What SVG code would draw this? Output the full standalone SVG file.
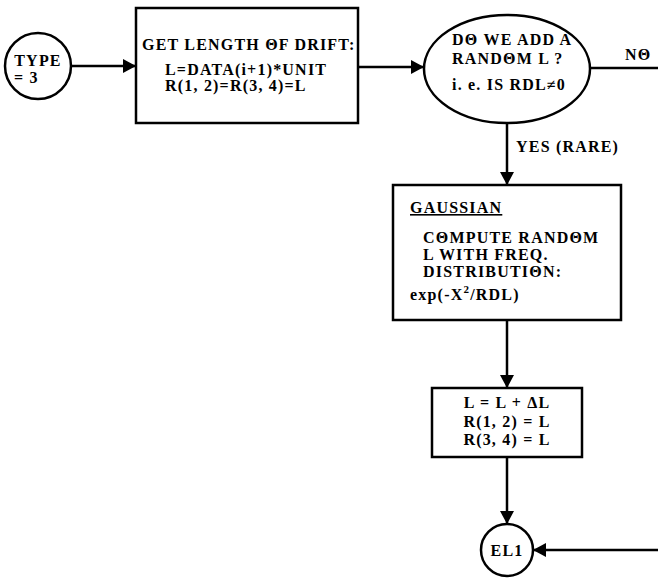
<svg xmlns="http://www.w3.org/2000/svg" width="658" height="578" viewBox="0 0 658 578">
<style>
  .shape{fill:#fff;stroke:#000;stroke-width:2.5}
  .wire{fill:none;stroke:#000;stroke-width:2.5}
  text{font-family:"Liberation Serif","Times New Roman",serif;font-weight:bold;font-size:16px;fill:#000;letter-spacing:1.2px}
  .mid{text-anchor:middle}
</style>
<defs>
  <marker id="ah" markerUnits="userSpaceOnUse" markerWidth="14" markerHeight="16" refX="13" refY="7" orient="auto" viewBox="0 0 14 14">
    <path d="M0,0 L13,7 L0,14 Z" fill="#000"/>
  </marker>
</defs>
<rect width="658" height="578" fill="#fff"/>

<!-- connectors -->
<g id="connectors">
  <line class="wire" x1="71" y1="66" x2="136" y2="66" marker-end="url(#ah)"/>
  <line class="wire" x1="358" y1="67" x2="424" y2="67" marker-end="url(#ah)"/>
  <line class="wire" x1="590" y1="68" x2="658" y2="68"/>
  <text x="625" y="60">NΘ</text>
  <line class="wire" x1="507" y1="123" x2="507" y2="185" marker-end="url(#ah)"/>
  <text x="516" y="152">YES (RARE)</text>
  <line class="wire" x1="507" y1="320" x2="507" y2="388" marker-end="url(#ah)"/>
  <line class="wire" x1="507" y1="457" x2="507" y2="524" marker-end="url(#ah)"/>
  <line class="wire" x1="658" y1="550" x2="533" y2="550" marker-end="url(#ah)"/>
</g>

<!-- entry: type 3 -->
<g id="type3">
  <circle class="shape" cx="38" cy="66" r="33"/>
  <text class="mid" x="38" y="66">TYPE</text>
  <text x="14" y="83">= 3</text>
</g>

<!-- drift length -->
<g id="drift">
  <rect class="shape" x="136" y="8" width="222" height="115"/>
  <text x="142" y="50">GET LENGTH ΘF DRIFT:</text>
  <text x="165" y="75">L=DATA(i+1)*UNIT</text>
  <text x="165" y="91">R(1, 2)=R(3, 4)=L</text>
</g>

<!-- decision -->
<g id="decision">
  <ellipse class="shape" cx="507" cy="69" rx="83" ry="54"/>
  <text x="452" y="45">DΘ WE ADD A</text>
  <text x="452" y="64">RANDΘM L ?</text>
  <text x="452" y="90">i. e. IS RDL≠0</text>
</g>

<!-- gaussian -->
<g id="gaussian">
  <rect class="shape" x="393" y="185" width="228" height="135"/>
  <text x="410" y="213" text-decoration="underline">GAUSSIAN</text>
  <text x="423" y="243">CΘMPUTE RANDΘM</text>
  <text x="423" y="260">L WITH FREQ.</text>
  <text x="423" y="277">DISTRIBUTIΘN:</text>
  <text x="410" y="300">exp(-X<tspan dy="-7" font-size="11">2</tspan><tspan dy="7">/RDL)</tspan></text>
</g>

<!-- update L -->
<g id="update">
  <rect class="shape" x="432" y="388" width="150" height="69"/>
  <text class="mid" x="507" y="408">L = L + ΔL</text>
  <text class="mid" x="507" y="427">R(1, 2) = L</text>
  <text class="mid" x="507" y="445">R(3, 4) = L</text>
</g>

<!-- exit -->
<g id="el1">
  <circle class="shape" cx="507" cy="550" r="26"/>
  <text class="mid" x="507" y="556">EL1</text>
</g>
</svg>
